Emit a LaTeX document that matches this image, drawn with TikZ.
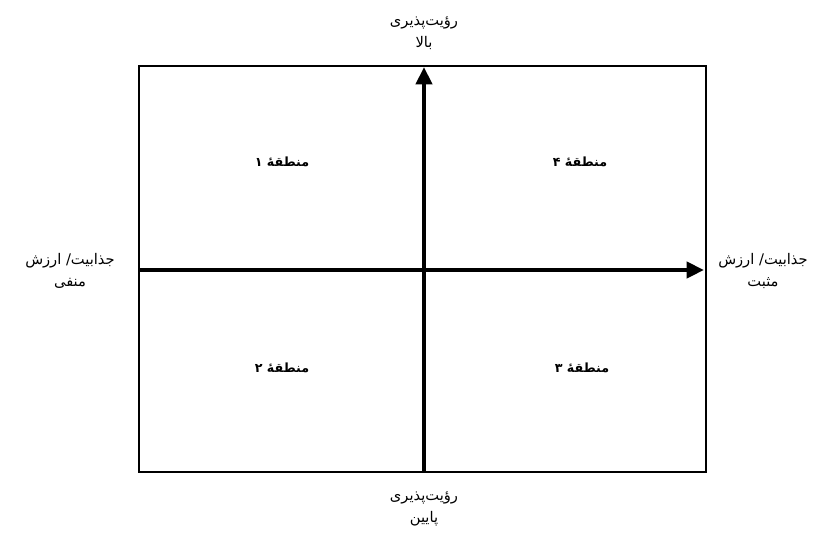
\documentclass[tikz,border=0pt]{standalone}
\usepackage{fontspec}
\usetikzlibrary{arrows.meta}
\TeXXeTstate=1
\newfontfamily\arabicfont[Script=Arabic]{DejaVu Sans}
\begin{document}
\begin{tikzpicture}[x=0.75pt,y=-0.75pt,
  lbl/.style={font=\arabicfont\fontsize{11}{16.5}\selectfont,align=center,inner sep=0pt},
  zone/.style={font=\arabicfont\bfseries\fontsize{9.5}{11}\selectfont,inner sep=0pt},
  axis/.style={line width=2.8pt,-{Triangle[length=13pt,width=12pt]}}]
\useasboundingbox (0,0) rectangle (819,536);
\draw[line width=1.3pt] (139,66) rectangle (706,472);
\coordinate (bot) at (424,472);
\coordinate (top) at (424,67);
\coordinate (left) at (139,270);
\coordinate (right) at (704,270);
\draw[axis] (bot) -- (top);
\draw[axis] (left) -- (right);
\node[lbl] (tl) at (424,33) {\beginR رؤیت‌پذیری\endR\\\beginR بالا\endR};
\node[lbl] (bl) at (424,509) {\beginR رؤیت‌پذیری\endR\\\beginR پایین\endR};
\node[lbl] (ll) at (70,271) {\beginR جذابیت/ ارزش\endR\\\beginR منفی\endR};
\node[lbl] (rl) at (763,271) {\beginR جذابیت/ ارزش\endR\\\beginR مثبت\endR};
\node[zone] (z1) at (282,162) {\beginR منطقهٔ ۱\endR};
\node[zone] (z4) at (580,162) {\beginR منطقهٔ ۴\endR};
\node[zone] (z2) at (282,368) {\beginR منطقهٔ ۲\endR};
\node[zone] (z3) at (582,368) {\beginR منطقهٔ ۳\endR};
\end{tikzpicture}
\end{document}
